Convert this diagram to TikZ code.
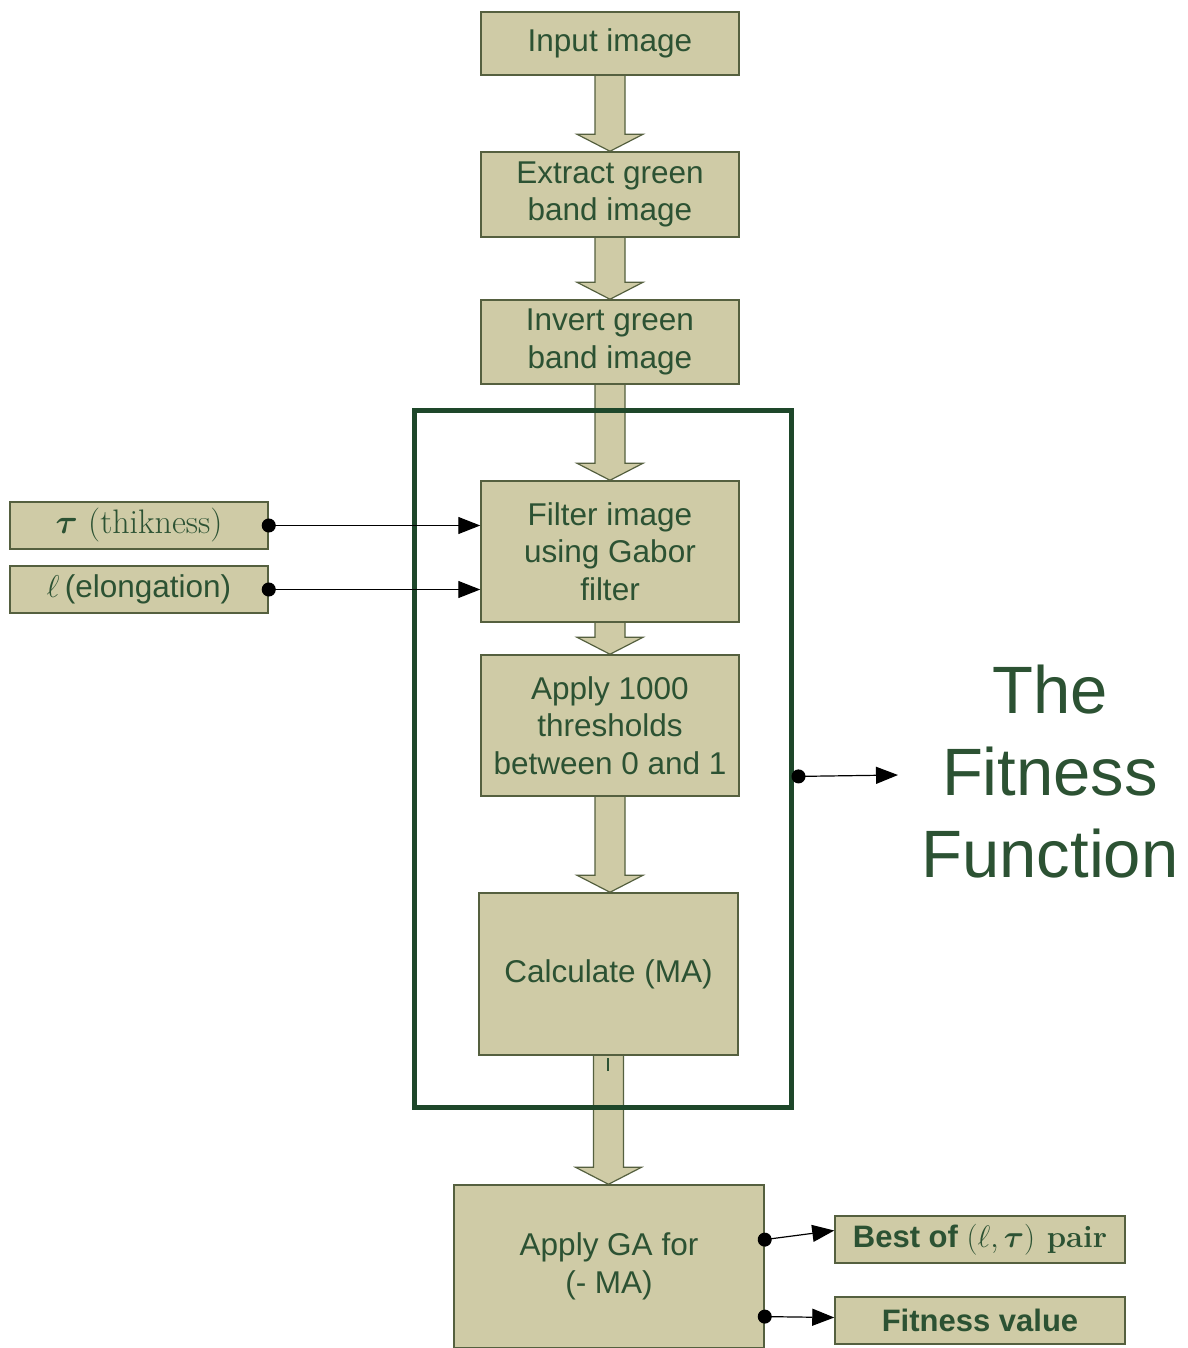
\RequirePackage{fix-cm}
\documentclass[tikz,border=0pt]{standalone}
\usepackage{amsmath}
\usepackage{fontspec}
\setsansfont{Liberation Sans}
\usetikzlibrary{calc,backgrounds,arrows.meta}
\definecolor{boxfill}{HTML}{CFCBA6}
\definecolor{boxline}{HTML}{55603F}
\definecolor{txtgreen}{HTML}{2C5233}
\definecolor{framegreen}{HTML}{1E472A}
\tikzset{
  stepbox/.style={draw=boxline, line width=1.5pt, fill=boxfill, text=txtgreen,
    align=center, inner sep=0pt, font=\sffamily\fontsize{31.5}{37.5}\selectfont},
  blockarrow/.style={draw=boxline, line width=1.2pt, fill=boxfill, line join=miter},
  link/.style={draw=black, line width=1.2pt, {Circle[length=14pt]}-{Triangle[length=22pt,width=17pt]}},
}
\newcommand{\barrow}[2]{%
  \path[blockarrow] ($(#1.south)+(-15,-2)$) -- ($(#1.south |- #2.north)+(-15,-17)$) -- ($(#1.south |- #2.north)+(-33,-17)$)
    -- (#1.south |- #2.north) -- ($(#1.south |- #2.north)+(33,-17)$) -- ($(#1.south |- #2.north)+(15,-17)$) -- ($(#1.south)+(15,-2)$) -- cycle;}
\begin{document}
\begin{tikzpicture}[x=1pt,y=-1pt]
\useasboundingbox (0,0) rectangle (1187,1348);
% boxes
\node[stepbox, minimum width=258, minimum height=63] (in) at (610,43.5) {Input image};
\node[stepbox, minimum width=258, minimum height=85] (ext) at (610,194.5) {Extract green\\band image};
\node[stepbox, minimum width=258, minimum height=84] (inv) at (610,342) {Invert green\\band image};
\node[stepbox, minimum width=258, minimum height=141] (filt) at (610,551.5) {Filter image\\using Gabor\\filter};
\node[stepbox, minimum width=258, minimum height=141] (thr) at (610,725.5) {Apply 1000\\thresholds\\between 0 and 1};
\node[stepbox, minimum width=259, minimum height=162] (calc) at (608.5,974) {Calculate (MA)};
\node[stepbox, minimum width=310, minimum height=163] (ga) at (609,1266.5) {Apply GA for\\(- MA)};
\node[stepbox, minimum width=258, minimum height=47, font=\rmfamily\fontsize{34}{38}\selectfont] (tau) at (139,525.5) {$\boldsymbol{\tau}$ (thikness)};
\node[stepbox, minimum width=258, minimum height=47] (ell) at (139,589.5) {$\ell$\,(elongation)};
\node[stepbox, minimum width=290, minimum height=47, font=\sffamily\bfseries\fontsize{31}{36}\selectfont] (best) at (980,1239.5) {Best of {\rmfamily$(\ell,\boldsymbol{\tau})$ pair}};
\node[stepbox, minimum width=290, minimum height=47, font=\sffamily\bfseries\fontsize{31}{36}\selectfont] (fitv) at (980,1320.5) {Fitness value};
% block arrows
\begin{pgfonlayer}{background}
\fill[white] (0,0) rectangle (1187,1348);
\barrow{in}{ext}
\barrow{ext}{inv}
\barrow{inv}{filt}
\barrow{filt}{thr}
\barrow{thr}{calc}
\barrow{calc}{ga}
\end{pgfonlayer}
% small tick
\coordinate (tk1) at (608,1058);
\coordinate (tk2) at (608,1071);
\draw[txtgreen, line width=1.2pt] (tk1) -- (tk2);
% frame
\node[draw=framegreen, line width=5pt, minimum width=377, minimum height=697, inner sep=0pt] (frame) at (602.5,758.5) {};
% title
\node[text=txtgreen, align=center, font=\sffamily\fontsize{67}{82}\selectfont] (title) at (1050,772) {The\\Fitness\\Function};
% connectors
\draw[link] ($(tau.east)+(-7,0)$) -- (filt.west |- tau.east);
\draw[link] ($(ell.east)+(-7,0)$) -- (filt.west |- ell.east);
\coordinate (fout) at (898,775);
\draw[link] ($(frame.east)+(-2,18)$) -- (fout);
\draw[link] ($(ga.east)+(-7,-26)$) -- ($(best.west)+(0,-9)$);
\draw[link] ($(ga.east)+(-7,50)$) -- ($(fitv.west)+(0,-3)$);
\end{tikzpicture}
\end{document}
